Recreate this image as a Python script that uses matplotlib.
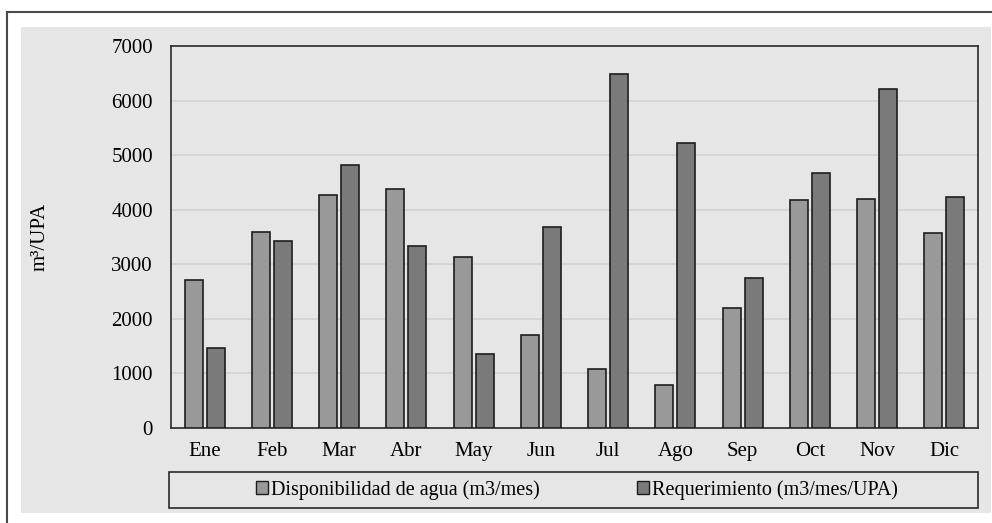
import matplotlib
matplotlib.use("Agg")
import matplotlib.pyplot as plt
import numpy as np
from matplotlib.lines import Line2D
from matplotlib.patches import Patch, Rectangle

months = ["Ene", "Feb", "Mar", "Abr", "May", "Jun", "Jul", "Ago", "Sep", "Oct", "Nov", "Dic"]
disponibilidad = [2720, 3600, 4270, 4380, 3140, 1710, 1090, 780, 2200, 4180, 4200, 3570]
requerimiento = [1470, 3420, 4820, 3340, 1350, 3680, 6480, 5220, 2740, 4680, 6220, 4240]
yticks = [0, 1000, 2000, 3000, 4000, 5000, 6000, 7000]

plt.rcParams["font.family"] = ["Liberation Serif", "DejaVu Serif"]
plt.rcParams["font.size"] = 15

bg = "#e6e6e6"
c_light = "#999999"
c_dark = "#7a7a7a"
edge = "#1e1e1e"

fig = plt.figure(figsize=(9.92, 5.23), dpi=100)
fig.patch.set_facecolor("white")

# grey chart area and outer frame
fig.patches.append(Rectangle((21 / 992, 1 - 513 / 523), 970 / 992, 486 / 523,
                             transform=fig.transFigure, facecolor=bg, edgecolor="none", zorder=-2))
fig.lines.append(Line2D([7 / 992, 7 / 992], [0, 1 - 12 / 523], transform=fig.transFigure,
                        color="#4a4a4a", lw=1.5))
fig.lines.append(Line2D([7 / 992, 1], [1 - 12 / 523, 1 - 12 / 523], transform=fig.transFigure,
                        color="#4a4a4a", lw=1.5))

ax = fig.add_axes([171 / 992, 1 - 428 / 523, 807 / 992, 382 / 523])
ax.set_facecolor(bg)

x = np.arange(len(months))
off, w = 0.163, 0.27
ax.bar(x - off, disponibilidad, width=w, color=c_light, edgecolor=edge, linewidth=1.2, zorder=3)
ax.bar(x + off, requerimiento, width=w, color=c_dark, edgecolor=edge, linewidth=1.2, zorder=3)

ax.set_xlim(-0.5, len(months) - 0.5)
ax.set_ylim(0, 7000)
ax.set_yticks(yticks)
ax.set_xticks(x)
ax.set_xticklabels(months)
ax.yaxis.grid(True, color="#d2d2d2", lw=1.2, zorder=0)
ax.set_axisbelow(True)
ax.tick_params(axis="both", length=0, labelsize=15)
ax.tick_params(axis="y", pad=13)
ax.tick_params(axis="x", pad=10)
for s in ax.spines.values():
    s.set_color("#2a2a2a")
    s.set_linewidth(1.2)

ax.set_ylabel("m³/UPA", fontsize=15)
ax.yaxis.set_label_coords(-0.150, 0.5)

# legend box
fig.patches.append(Rectangle((169 / 992, 1 - 508 / 523), 809 / 992, 36 / 523,
                             transform=fig.transFigure, facecolor=bg, edgecolor="#2a2a2a",
                             lw=1.2, zorder=-1))
handles = [Patch(facecolor=c_light, edgecolor=edge, lw=1.0),
           Patch(facecolor=c_dark, edgecolor=edge, lw=1.0)]
fig.legend(handles, ["Disponibilidad de agua (m3/mes)", "Requerimiento (m3/mes/UPA)"],
           loc="center", bbox_to_anchor=(577 / 992, 1 - 490 / 523), ncol=2, frameon=False,
           handlelength=0.6, handleheight=0.6, handletextpad=0.15, columnspacing=4.8,
           fontsize=14.5)

fig.savefig("out.png", dpi=100)
